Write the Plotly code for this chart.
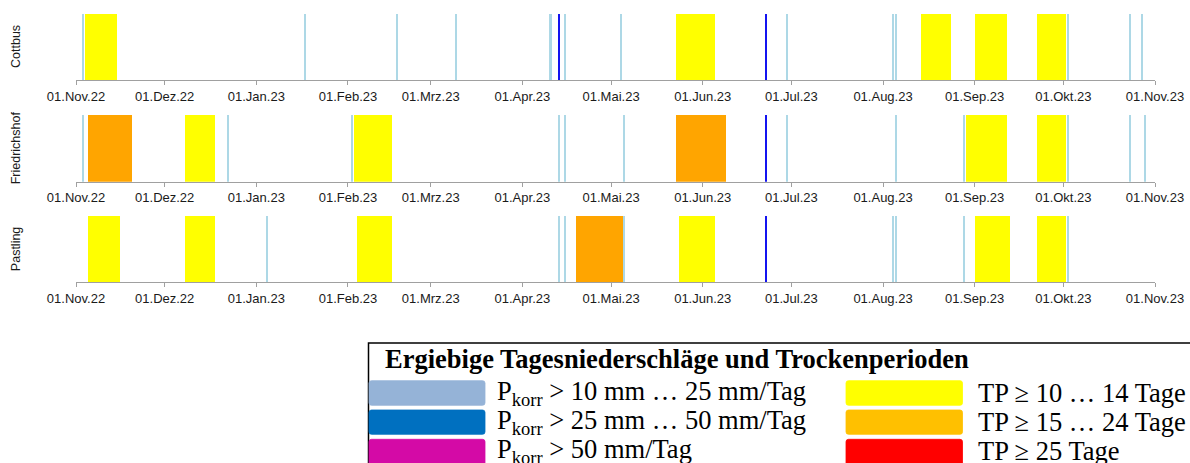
import pandas as pd
import plotly.graph_objects as go

# ---------------------------------------------------------------------------
# Daten: Zeitraum, Achsenbeschriftung
# ---------------------------------------------------------------------------
period_start = "2022-11-01"
period_end = "2023-11-01"

tick_dates = ["2022-11-01", "2022-12-01", "2023-01-01", "2023-02-01", "2023-03-01",
              "2023-04-01", "2023-05-01", "2023-06-01", "2023-07-01", "2023-08-01",
              "2023-09-01", "2023-10-01", "2023-11-01"]
tick_labels = ["01.Nov.22", "01.Dez.22", "01.Jan.23", "01.Feb.23", "01.Mrz.23",
               "01.Apr.23", "01.Mai.23", "01.Jun.23", "01.Jul.23", "01.Aug.23",
               "01.Sep.23", "01.Okt.23", "01.Nov.23"]

stations = ["Cottbus", "Friedrichshof", "Pastling"]

# Trockenperioden (Beginn, Dauer in Tagen)
cottbus_dry_start = ["2022-11-04", "2023-05-23", "2023-08-14", "2023-09-01", "2023-09-22"]
cottbus_dry_days = [11, 13, 10, 11, 10]
friedrichshof_dry_start = ["2022-11-05", "2022-12-08", "2023-02-03", "2023-05-23",
                           "2023-08-29", "2023-09-22"]
friedrichshof_dry_days = [15, 10, 13, 17, 14, 10]
pastling_dry_start = ["2022-11-05", "2022-12-08", "2023-02-04", "2023-04-19",
                      "2023-05-24", "2023-09-01", "2023-09-22"]
pastling_dry_days = [11, 10, 12, 16, 12, 12, 10]

# Ergiebige Tagesniederschlaege: Pkorr > 10 ... 25 mm/Tag
cottbus_p10 = ["2022-11-03", "2023-01-17", "2023-02-17", "2023-03-09", "2023-04-10",
               "2023-04-15", "2023-05-04", "2023-06-29", "2023-08-04", "2023-08-05",
               "2023-10-02", "2023-10-23", "2023-10-27"]
friedrichshof_p10 = ["2022-11-03", "2022-12-22", "2023-02-02", "2023-04-13", "2023-04-15",
                     "2023-05-05", "2023-06-29", "2023-08-05", "2023-08-28", "2023-10-02",
                     "2023-10-23", "2023-10-28"]
pastling_p10 = ["2023-01-04", "2023-04-13", "2023-04-15", "2023-05-05", "2023-08-04",
                "2023-08-05", "2023-08-28", "2023-10-02"]

# Pkorr > 25 ... 50 mm/Tag
cottbus_p25 = ["2023-04-13", "2023-06-22"]
friedrichshof_p25 = ["2023-06-22"]
pastling_p25 = ["2023-06-22"]

dry_start = [cottbus_dry_start, friedrichshof_dry_start, pastling_dry_start]
dry_days = [cottbus_dry_days, friedrichshof_dry_days, pastling_dry_days]
p10_days = [cottbus_p10, friedrichshof_p10, pastling_p10]
p25_days = [cottbus_p25, friedrichshof_p25, pastling_p25]

# ---------------------------------------------------------------------------
# Farben
# ---------------------------------------------------------------------------
C_P10 = "#add8e6"
C_P25 = "#1414f0"
C_TP10 = "#ffff00"
C_TP15 = "#ffa500"
C_TP25 = "#ff0000"

LEG_P10 = "#95b3d7"
LEG_P25 = "#0070c0"
LEG_P50 = "#d40aa6"
LEG_TP10 = "#ffff00"
LEG_TP15 = "#ffc000"
LEG_TP25 = "#ff0000"

DAY_MS = 86400000


def tp_color(days):
    if days >= 25:
        return C_TP25
    if days >= 15:
        return C_TP15
    return C_TP10


# ---------------------------------------------------------------------------
# Seitenaufteilung
# ---------------------------------------------------------------------------
W, H = 1190, 463
ML, MR = 76, 35
PW = W - ML - MR


def fx(px):
    return (px - ML) / PW


def fy(py):
    return 1 - py / H


panel_px = [(14, 80), (115, 181.7), (216, 282.3)]

fig = go.Figure()

for i, name in enumerate(stations):
    n = "" if i == 0 else str(i + 1)
    xa, ya = "x" + n, "y" + n

    # Trockenperioden als Balken ueber die gesamte Dauer
    starts = pd.to_datetime(dry_start[i])
    lens = dry_days[i]
    centers = [s + pd.Timedelta(days=d / 2) for s, d in zip(starts, lens)]
    fig.add_trace(go.Bar(
        x=centers, y=[1] * len(lens), width=[d * DAY_MS for d in lens],
        marker=dict(color=[tp_color(d) for d in lens], line=dict(width=0)),
        xaxis=xa, yaxis=ya, showlegend=False, hoverinfo="x",
    ))

    # Niederschlagstage als schmale Linien
    for days, col in ((p10_days[i], C_P10), (p25_days[i], C_P25)):
        xs = [d + pd.Timedelta(hours=12) for d in pd.to_datetime(days)]
        fig.add_trace(go.Bar(
            x=xs, y=[1] * len(xs), width=0.7 * DAY_MS,
            marker=dict(color=col, line=dict(width=0)),
            xaxis=xa, yaxis=ya, showlegend=False, hoverinfo="x",
        ))

    top, bottom = panel_px[i]
    fig.update_layout(**{
        "xaxis" + n: dict(
            domain=[0, 1], anchor=ya, type="date",
            range=[period_start, period_end],
            tickvals=tick_dates, ticktext=tick_labels,
            showgrid=False, zeroline=False,
            showline=True, linecolor="#a0a0a0", linewidth=1,
            ticks="outside", ticklen=4, tickcolor="#a0a0a0",
            tickfont=dict(family="Liberation Sans, Arial", size=13, color="#1a1a1a"),
        ),
        "yaxis" + n: dict(
            domain=[fy(bottom), fy(top)], anchor=xa, range=[0, 1],
            visible=False, fixedrange=True,
        ),
    })

    fig.add_annotation(
        x=fx(16), y=0.5, xref="paper", yref=ya + " domain",
        text=name, textangle=-90, showarrow=False,
        xanchor="center", yanchor="middle",
        font=dict(family="Liberation Sans, Arial", size=12.5, color="#1a1a1a"),
    )

# ---------------------------------------------------------------------------
# Legende (Rahmen, Farbfelder, Texte)
# ---------------------------------------------------------------------------
shapes = [dict(type="rect", xref="paper", yref="paper",
               x0=fx(368.5), x1=fx(1230), y0=fy(343), y1=fy(500),
               line=dict(color="black", width=1.5), fillcolor="rgba(0,0,0,0)")]


def swatch(x0, y0, x1, y1, color, r=2.5):
    p = (f"M {fx(x0 + r)},{fy(y0)} L {fx(x1 - r)},{fy(y0)} "
         f"Q {fx(x1)},{fy(y0)} {fx(x1)},{fy(y0 + r)} "
         f"L {fx(x1)},{fy(y1 - r)} Q {fx(x1)},{fy(y1)} {fx(x1 - r)},{fy(y1)} "
         f"L {fx(x0 + r)},{fy(y1)} Q {fx(x0)},{fy(y1)} {fx(x0)},{fy(y1 - r)} "
         f"L {fx(x0)},{fy(y0 + r)} Q {fx(x0)},{fy(y0)} {fx(x0 + r)},{fy(y0)} Z")
    return dict(type="path", xref="paper", yref="paper", path=p,
                fillcolor=color, line=dict(color=color, width=0.8))


rows_px = [(380.7, 405.3), (410, 434.3), (439.3, 470)]
left_items = [(LEG_P10, "P<sub>korr</sub> &gt; 10 mm … 25 mm/Tag"),
              (LEG_P25, "P<sub>korr</sub> &gt; 25 mm … 50 mm/Tag"),
              (LEG_P50, "P<sub>korr</sub> &gt; 50 mm/Tag")]
right_items = [(LEG_TP10, "TP ≥ 10 … 14 Tage"),
               (LEG_TP15, "TP ≥ 15 … 24 Tage"),
               (LEG_TP25, "TP ≥ 25 Tage")]

text_centers = [393, 422, 451]
serif = dict(family="Liberation Serif, Times New Roman", size=26.5, color="black")

for (y0, y1), yc, (lc, lt), (rc, rt) in zip(rows_px, text_centers, left_items, right_items):
    shapes.append(swatch(369, y0, 485, y1, lc))
    shapes.append(swatch(846, y0, 962.5, y1, rc))
    fig.add_annotation(x=fx(495), y=fy(yc), xref="paper", yref="paper", text=lt,
                       showarrow=False, xanchor="left", yanchor="middle", font=serif)
    fig.add_annotation(x=fx(976), y=fy(yc), xref="paper", yref="paper", text=rt,
                       showarrow=False, xanchor="left", yanchor="middle", font=serif)

fig.add_annotation(
    x=fx(383), y=fy(359), xref="paper", yref="paper",
    text="<b>Ergiebige Tagesniederschläge und Trockenperioden</b>",
    showarrow=False, xanchor="left", yanchor="middle",
    font=dict(family="Liberation Serif, Times New Roman", size=26.5, color="black"),
)

fig.update_layout(
    width=W, height=H,
    margin=dict(l=ML, r=MR, t=0, b=0),
    paper_bgcolor="white", plot_bgcolor="white",
    barmode="overlay", bargap=0,
    showlegend=False,
    shapes=shapes,
)

fig.write_html("out.html")
